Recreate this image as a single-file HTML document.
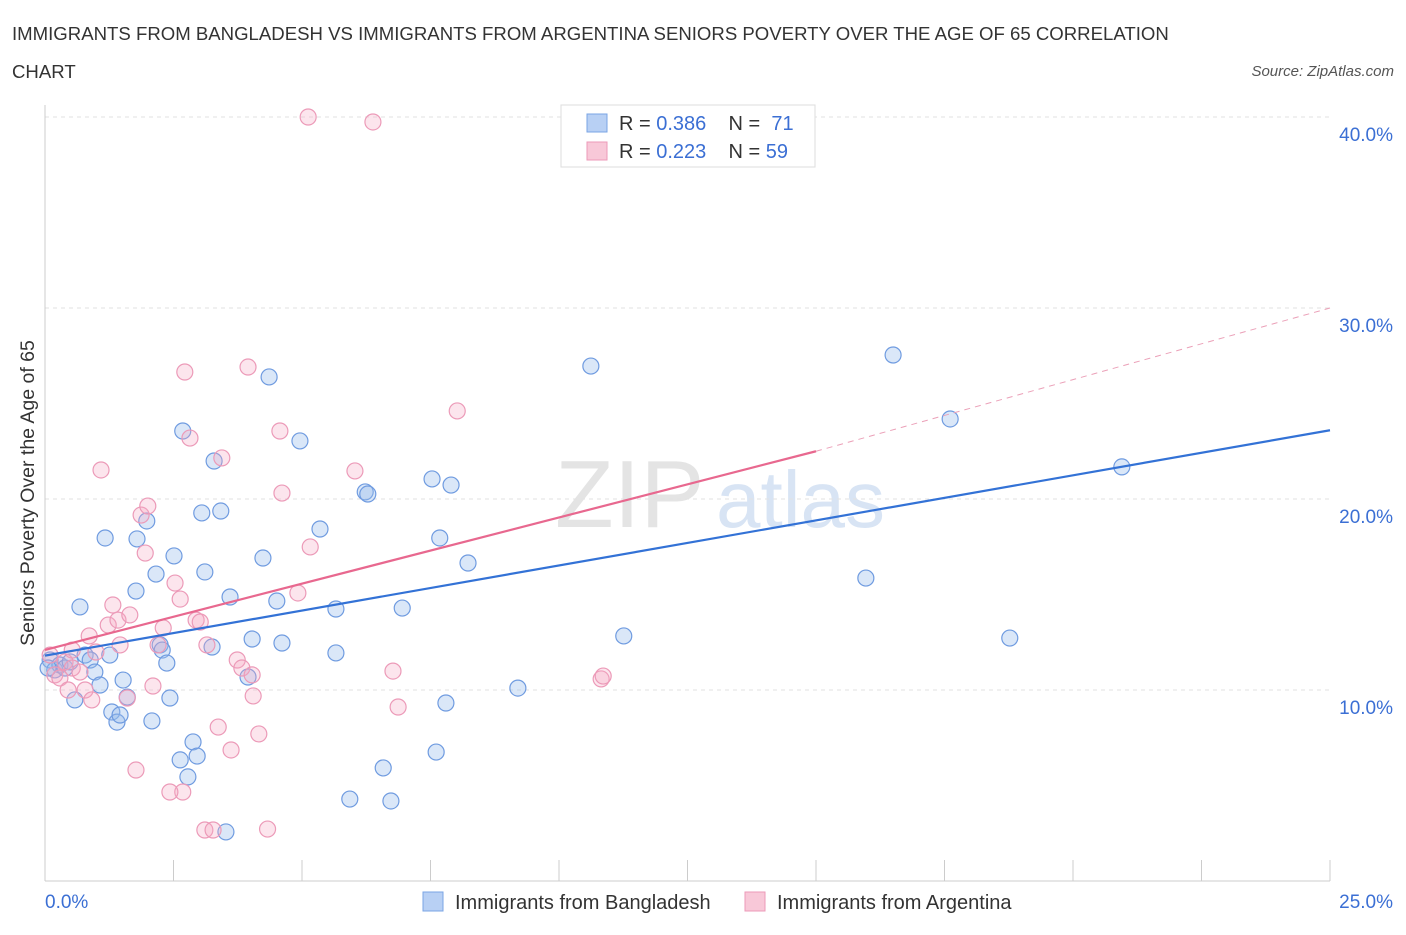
<!DOCTYPE html>
<html><head><meta charset="utf-8"><style>
body{margin:0;background:#fff;font-family:"Liberation Sans",sans-serif;}
svg text{font-family:"Liberation Sans",sans-serif;}
</style></head><body>
<svg id="chart" width="1406" height="930" xmlns="http://www.w3.org/2000/svg">
<text x="12" y="40" font-size="18.6" fill="#333">IMMIGRANTS FROM BANGLADESH VS IMMIGRANTS FROM ARGENTINA SENIORS POVERTY OVER THE AGE OF 65 CORRELATION</text>
<text x="12" y="78" font-size="18.6" fill="#333">CHART</text>
<text x="1394" y="76" font-size="15" fill="#555" font-style="italic" text-anchor="end">Source: ZipAtlas.com</text>
<text transform="translate(34,493) rotate(-90)" font-size="19.5" fill="#333" text-anchor="middle">Seniors Poverty Over the Age of 65</text>
<text x="555" y="527" font-size="96" fill="#e4e4e4" font-family="Liberation Serif">ZIP</text>
<text x="716" y="527" font-size="80" fill="#d8e4f4">atlas</text>
<g id="grid"></g><g id="marks"></g>
<g>
<rect x="561" y="105" width="254" height="62" fill="#fff" stroke="#ddd"/>
<rect x="587" y="114" width="20" height="18" fill="#b8d0f4" stroke="#7aa4e4"/>
<rect x="587" y="142" width="20" height="18" fill="#f8c8d8" stroke="#ec9ab8"/>
<text x="619" y="130" font-size="20" fill="#333">R = <tspan fill="#3b6fd4">0.386</tspan>&#160;&#160;&#160;&#160;N = &#160;<tspan fill="#3b6fd4">71</tspan></text>
<text x="619" y="158" font-size="20" fill="#333">R = <tspan fill="#3b6fd4">0.223</tspan>&#160;&#160;&#160;&#160;N = <tspan fill="#3b6fd4">59</tspan></text>
</g>
<g>
<rect x="423" y="892" width="20" height="19" fill="#b8d0f4" stroke="#7aa4e4"/>
<text x="455" y="909" font-size="20" fill="#333">Immigrants from Bangladesh</text>
<rect x="745" y="892" width="20" height="19" fill="#f8c8d8" stroke="#ec9ab8"/>
<text x="777" y="909" font-size="20" fill="#333">Immigrants from Argentina</text>
</g>
</svg>
<script>
const xTicks=[0,25];
const yTicks=[10,20,30,40];
const bdX=[0.10,0.19,0.29,0.39,0.49,0.58,0.68,0.78,0.88,0.97,1.07,1.17,1.26,1.30,1.40,1.46,1.52,1.60,1.77,1.79,1.98,2.08,2.16,2.24,2.28,2.37,2.43,2.51,2.63,2.68,2.78,2.88,2.96,3.05,3.11,3.25,3.29,3.42,3.52,3.60,3.95,4.03,4.24,4.36,4.51,4.61,4.96,5.35,5.66,5.66,5.93,6.23,6.28,6.58,6.73,6.95,7.53,7.61,7.68,7.80,7.90,8.23,9.20,10.62,11.26,15.97,16.50,17.61,18.77,20.95,0.06];
const bdY=[11.57,11.05,11.31,11.15,11.47,9.48,14.35,11.83,11.57,10.94,10.26,17.96,11.83,8.85,8.32,8.69,10.52,9.63,15.18,17.91,18.85,8.38,16.07,12.36,12.09,11.41,9.58,17.02,6.34,23.56,5.45,7.28,6.54,19.27,16.18,12.25,21.99,19.37,2.57,14.87,10.68,12.67,16.91,26.39,14.66,12.46,23.04,18.43,14.24,11.94,4.29,20.37,20.26,5.92,4.19,14.29,21.05,6.75,17.96,9.32,20.73,16.65,10.10,26.96,12.83,15.86,27.54,24.19,12.72,21.68,11.15];
const arX=[0.10,0.19,0.29,0.39,0.45,0.53,0.68,0.78,0.86,0.91,0.99,1.09,1.23,1.32,1.42,1.46,1.60,1.65,1.77,1.87,1.95,2.00,2.10,2.20,2.30,2.53,2.63,2.68,2.72,2.82,2.94,3.02,3.11,3.15,3.27,3.37,3.44,3.62,3.74,3.83,3.95,4.03,4.05,4.16,4.33,4.57,4.61,4.92,5.16,5.12,6.03,6.38,6.77,6.87,8.02,10.82,10.86,2.43,0.53];
const arY=[11.83,10.79,10.63,11.47,10.00,11.15,10.94,10.00,12.83,9.48,11.99,21.52,13.40,14.45,13.66,12.36,9.58,13.93,5.81,19.16,17.17,19.63,10.21,12.36,13.25,15.60,14.76,4.66,26.65,23.19,13.66,13.56,2.67,12.36,2.67,8.06,22.15,6.86,11.57,11.15,26.91,10.79,9.69,7.70,2.72,23.56,20.31,15.08,17.49,40.0,21.47,39.74,10.99,9.11,24.61,10.58,10.73,4.66,12.09];
const bdLine=[11.8,23.6], arLine=[12.1,22.5,30.0];
const L=45,R=1330,B=881,T=117;
const sx=v=>L+(R-L)*v/25, sy=v=>B-(B-T)*v/40;
const NS="http://www.w3.org/2000/svg";
const g=document.getElementById('grid'), m=document.getElementById('marks');
function mk(p,tag,a){const e=document.createElementNS(NS,tag);for(const k in a)e.setAttribute(k,a[k]);p.appendChild(e);return e;}
yTicks.forEach(t=>{
 const l=mk(g,'line',{x1:L,x2:R,y1:sy(t),y2:sy(t),stroke:'#e2e2e2','stroke-dasharray':'4,4'});
 
 
 const tx=mk(g,'text',{x:1393,y:sy(t)+24,'font-size':19,fill:'#3b6fd4','text-anchor':'end'});
 tx.textContent=t.toFixed(1)+'%';
 
 
});
mk(g,'line',{x1:L,x2:L,y1:105,y2:B,stroke:'#ccc'});
mk(g,'line',{x1:L,x2:R,y1:B,y2:B,stroke:'#ccc'});
for(let i=0;i<=10;i++){const x=sx(i*2.5);mk(g,'line',{x1:x,x2:x,y1:860,y2:B,stroke:'#ccc'});}
xTicks.forEach((t,i)=>{
 const tx=mk(g,'text',{x:i?1393:45,y:908,'font-size':19,fill:'#3b6fd4','text-anchor':i?'end':'start'});
 tx.textContent=t.toFixed(1)+'%';
 
 
});
bdX.forEach((x,i)=>{
 const c=mk(m,'circle',{cx:sx(x),cy:sy(bdY[i]),r:8,fill:'rgba(150,185,235,0.35)',stroke:'#6f9be0','stroke-width':1.2});
 
 
});
arX.forEach((x,i)=>{
 const c=mk(m,'circle',{cx:sx(x),cy:sy(arY[i]),r:8,fill:'rgba(245,170,195,0.3)',stroke:'#ec9ab8','stroke-width':1.2});
 
 
});
let l1=mk(m,'line',{x1:sx(0),y1:sy(bdLine[0]),x2:sx(25),y2:sy(bdLine[1]),stroke:'#3372d6','stroke-width':2.2});


let l2=mk(m,'line',{x1:sx(0),y1:sy(arLine[0]),x2:sx(15),y2:sy(arLine[1]),stroke:'#e8688f','stroke-width':2.2});


let l3=mk(m,'line',{x1:sx(15),y1:sy(arLine[1]),x2:sx(25),y2:sy(arLine[2]),stroke:'#eba0b8','stroke-width':1,'stroke-dasharray':'6,5'});


</script>
</body></html>
